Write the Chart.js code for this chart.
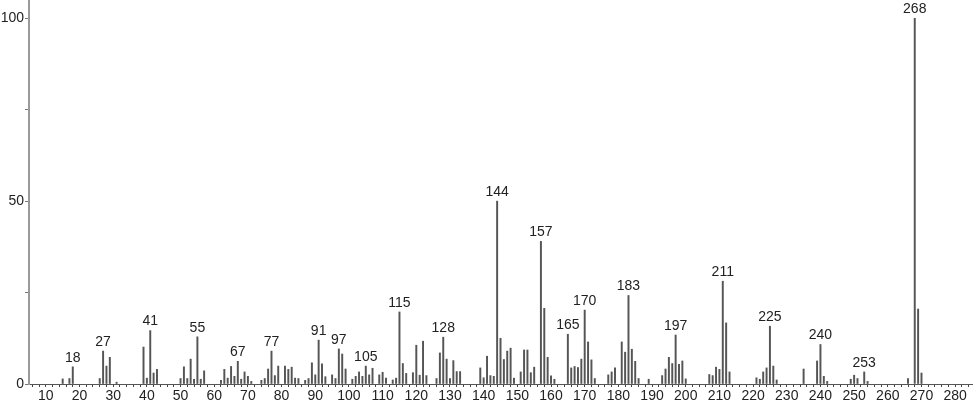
<!DOCTYPE html>
<html><head><meta charset="utf-8">
<script src="https://cdn.jsdelivr.net/npm/chart.js@4/dist/chart.umd.min.js"></script>
<style>html,body{margin:0;padding:0;background:#fff;overflow:hidden}#wrap{width:974px;height:406px}</style>
</head><body><div id="wrap"><canvas id="c" width="974" height="406"></canvas></div>
<script>
const masses = [15,17,18,26,27,28,29,31,39,40,41,42,43,50,51,52,53,54,55,56,57,62,63,64,65,66,67,68,69,70,71,74,75,76,77,78,79,81,82,83,84,85,87,88,89,90,91,92,93,95,96,97,98,99,101,102,103,104,105,106,107,109,110,111,113,114,115,116,117,119,120,121,122,123,126,127,128,129,130,131,132,133,139,140,141,142,143,144,145,146,147,148,149,151,152,153,154,155,157,158,159,160,161,165,166,167,168,169,170,171,172,173,177,178,179,181,182,183,184,185,186,189,193,194,195,196,197,198,199,200,207,208,209,210,211,212,213,221,222,223,224,225,226,227,235,239,240,241,242,249,250,251,253,254,266,268,269,270];
const intensities = [1.4,1.5,4.7,1.5,9.0,4.9,7.3,0.5,10.1,1.6,14.6,3.0,4.0,1.5,4.7,1.5,6.8,1.3,12.9,1.3,3.6,1.0,4.0,1.6,4.8,2.1,6.2,1.3,3.3,2.1,0.7,1.0,1.5,4.1,9.0,2.3,4.9,4.9,4.0,4.6,1.6,1.5,1.0,1.5,5.8,2.5,12.0,5.5,2.0,2.5,1.5,9.6,8.2,4.1,1.3,2.1,3.3,2.1,4.9,2.5,4.3,2.5,3.2,1.6,1.1,1.6,19.7,5.6,2.9,3.1,10.6,2.4,11.7,2.3,1.5,8.5,12.8,6.8,1.5,6.4,3.4,3.4,4.4,1.7,7.6,2.3,2.1,50.0,12.5,6.7,9.0,9.8,1.6,3.3,9.3,9.3,3.1,4.6,39.0,20.7,7.3,2.2,1.3,13.6,4.4,4.8,4.5,6.8,20.2,11.5,6.6,1.5,2.5,3.3,4.4,11.5,8.7,24.2,9.5,6.2,1.5,1.3,2.3,4.1,7.3,5.6,13.4,5.4,6.3,1.4,2.6,2.3,4.6,4.0,28.1,16.7,3.3,1.7,1.3,3.3,4.4,15.8,4.9,1.1,4.1,6.3,10.8,2.1,0.7,1.3,2.4,1.5,3.3,0.7,1.5,100,20.5,3.0];
const labeledMasses = [18,27,41,55,67,77,91,97,105,115,128,144,157,165,170,183,197,211,225,240,253,268];
const xTickValues = [6,8,10,12,14,16,18,20,22,24,26,28,30,32,34,36,38,40,42,44,46,48,50,52,54,56,58,60,62,64,66,68,70,72,74,76,78,80,82,84,86,88,90,92,94,96,98,100,102,104,106,108,110,112,114,116,118,120,122,124,126,128,130,132,134,136,138,140,142,144,146,148,150,152,154,156,158,160,162,164,166,168,170,172,174,176,178,180,182,184,186,188,190,192,194,196,198,200,202,204,206,208,210,212,214,216,218,220,222,224,226,228,230,232,234,236,238,240,242,244,246,248,250,252,254,256,258,260,262,264,266,268,270,272,274,276,278,280,282,284];
const xLabelValues = [10,20,30,40,50,60,70,80,90,100,110,120,130,140,150,160,170,180,190,200,210,220,230,240,250,260,270,280];
const yTickValues = [0,25,50,75,100];
const yLabelValues = [0,50,100];

const FONT = 'Liberation Sans, Arial, sans-serif';
const points = masses.map((m, i) => ({x: m, y: intensities[i]}));

const peakLabels = {
  id: 'peakLabels',
  afterDatasetsDraw(chart) {
    const ctx = chart.ctx;
    const meta = chart.getDatasetMeta(0);
    ctx.save();
    ctx.font = '14px ' + FONT;
    ctx.fillStyle = '#222';
    ctx.textAlign = 'center';
    ctx.textBaseline = 'bottom';
    labeledMasses.forEach(m => {
      const i = masses.indexOf(m);
      if (i < 0) return;
      const el = meta.data[i];
      ctx.fillText(String(m), el.x, el.y - 2);
    });
    ctx.restore();
  }
};

new Chart(document.getElementById('c'), {
  type: 'bar',
  data: {
    datasets: [{
      data: points,
      backgroundColor: '#555',
      borderWidth: 0,
      barThickness: 1.3,
      grouped: false
    }]
  },
  options: {
    responsive: false,
    animation: false,
    devicePixelRatio: 1,
    layout: {padding: {left: 0, right: 2, top: 0, bottom: 0}},
    plugins: {legend: {display: false}, tooltip: {enabled: false}},
    scales: {
      x: {
        type: 'linear',
        offset: false,
        min: 5, max: 285,
        afterFit(s) { s.height = 22; s.paddingLeft = 0; s.paddingRight = 0; },
        afterBuildTicks(s) { s.ticks = xTickValues.map(v => ({value: v})); },
        grid: {offset: false, drawOnChartArea: false, drawTicks: true, tickLength: 3, color: '#444', tickColor: '#444'},
        border: {display: true, color: '#555', width: 1},
        ticks: {
          autoSkip: false, maxRotation: 0, minRotation: 0, padding: 1,
          color: '#222', font: {family: FONT, size: 14},
          callback: v => xLabelValues.includes(v) ? String(v) : ''
        }
      },
      y: {
        min: 0, max: 105,
        afterFit(s) { s.width = 29; s.paddingTop = 0; s.paddingBottom = 0; },
        afterBuildTicks(s) { s.ticks = yTickValues.map(v => ({value: v})); },
        grid: {drawOnChartArea: false, drawTicks: true, tickLength: 4, color: '#777', tickColor: '#777'},
        border: {display: true, color: '#9a9a9a', width: 2},
        ticks: {
          autoSkip: false, padding: 1,
          color: '#222', font: {family: FONT, size: 14},
          callback: v => yLabelValues.includes(v) ? String(v) : ''
        }
      }
    }
  },
  plugins: [peakLabels]
});
</script>
</body></html>
